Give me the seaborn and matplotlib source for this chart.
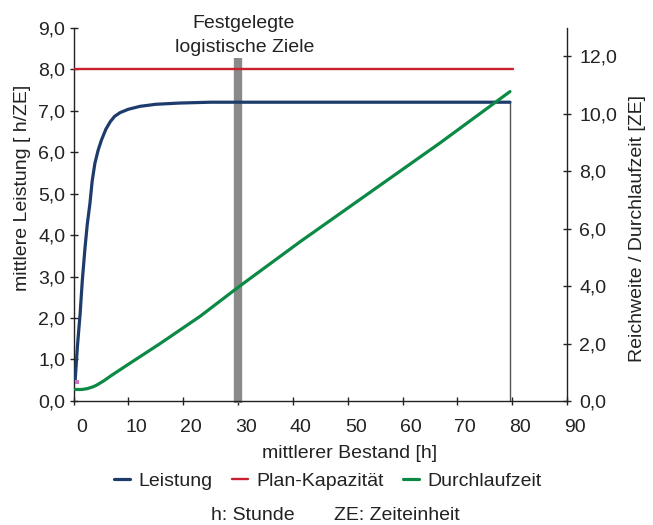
import matplotlib
matplotlib.use("Agg")
import matplotlib.pyplot as plt
import matplotlib.transforms as mtransforms
from matplotlib.ticker import FuncFormatter, MultipleLocator
import seaborn as sns
import pandas as pd

# -------------------------
# Data
# -------------------------
bestand_leistung = [0.3, 0.7, 1.2, 1.6, 2.1, 2.5, 3.0, 3.4, 3.9, 4.5, 5.1, 5.9,
                    6.7, 7.5, 8.5, 10.0, 12.1, 15.0, 19.4, 25.0, 30.0, 79.6]
leistung = [0.5, 1.3, 2.1, 2.9, 3.7, 4.25, 4.77, 5.3, 5.73, 6.05, 6.29, 6.55,
            6.73, 6.86, 6.95, 7.03, 7.1, 7.15, 7.18, 7.2, 7.2, 7.2]

bestand_dlz = [0.3, 1.5, 2.5, 3.5, 4.2, 5.5, 7.0, 9.7, 15.8, 23.1, 30.1, 41.3, 66.9, 79.6]
durchlaufzeit = [0.40, 0.40, 0.43, 0.49, 0.55, 0.70, 0.90, 1.24, 2.0, 2.95, 3.97, 5.54, 8.99, 10.77]

plan_bestand = [0.0, 80.1]
plan_kapazitaet = [8.0, 8.0]

ziel_bestand = 30.0       # festgelegte logistische Ziele
ziel_hoehe = 8.26
leistung_ende = 79.6
punkt = (0.64, 0.46)      # kleiner Messpunkt am Anfang

x_ticks = [0, 10, 20, 30, 40, 50, 60, 70, 80, 90]

df_l = pd.DataFrame({"Bestand": bestand_leistung, "Wert": leistung})
df_d = pd.DataFrame({"Bestand": bestand_dlz, "Wert": durchlaufzeit})
df_p = pd.DataFrame({"Bestand": plan_bestand, "Wert": plan_kapazitaet})

C_LEISTUNG = "#1d3c6c"
C_PLAN = "#c9202e"
C_DLZ = "#0c8a45"
C_ZIEL = "#8a8a8a"

# -------------------------
# Style
# -------------------------
sns.set_style("ticks")
plt.rcParams["font.family"] = ["Liberation Sans", "DejaVu Sans"]
plt.rcParams["font.size"] = 14
plt.rcParams["text.color"] = "#222222"

fig = plt.figure(figsize=(6.53, 5.25), dpi=100)
ax = fig.add_axes([0.1126, 0.2362, 0.7557, 0.7114])
ax2 = ax.twinx()

# -------------------------
# Lines
# -------------------------
ax.vlines(ziel_bestand, -0.06, ziel_hoehe, color=C_ZIEL, lw=6, zorder=1, clip_on=False)
ax.vlines(leistung_ende, 0, leistung[-1], color="#555555", lw=1.0, zorder=2)
sns.lineplot(data=df_p, x="Bestand", y="Wert", ax=ax, color=C_PLAN, lw=1.7,
             label="Plan-Kapazität", legend=False, zorder=3)
sns.lineplot(data=df_l, x="Bestand", y="Wert", ax=ax, color=C_LEISTUNG, lw=2.3,
             label="Leistung", legend=False, zorder=4)
ax.scatter([punkt[0]], [punkt[1]], s=5, marker="s", color="#d070c0", zorder=5, lw=0)
sns.lineplot(data=df_d, x="Bestand", y="Wert", ax=ax2, color=C_DLZ, lw=2.3,
             label="Durchlaufzeit", legend=False, zorder=4)

# -------------------------
# Axes
# -------------------------
ax.set_xlim(0, 90)
ax.set_ylim(0, 9)
ax.set_xticks(x_ticks)
ax.yaxis.set_major_locator(MultipleLocator(1))
ax2.yaxis.set_major_locator(MultipleLocator(2))
ax2.set_ylim(0, 13)

komma = FuncFormatter(lambda v, p: f"{v:.1f}".replace(".", ","))
ax.yaxis.set_major_formatter(komma)
ax2.yaxis.set_major_formatter(komma)

ax.set_xlabel("")
ax.set_ylabel("")
ax2.set_ylabel("")

for a in (ax, ax2):
    a.spines["top"].set_visible(False)
    for s in a.spines.values():
        s.set_linewidth(1.0)
        s.set_color("#222222")
    a.tick_params(direction="inout", length=6, width=1.0, colors="#222222",
                  labelsize=14, labelcolor="#222222")
ax.spines["right"].set_visible(False)
ax2.spines["left"].set_visible(False)
ax2.spines["bottom"].set_visible(False)
ax.tick_params(axis="x", pad=10)
ax.tick_params(axis="y", pad=3)
ax2.tick_params(axis="y", pad=6)

# x tick labels sit a bit right of their ticks in the original
shift = mtransforms.ScaledTranslation(8 / 100, 0, fig.dpi_scale_trans)
for lbl in ax.get_xticklabels():
    lbl.set_transform(lbl.get_transform() + shift)

# -------------------------
# Texts
# -------------------------
fig.text(244 / 653, 1 - 23 / 525, "Festgelegte", ha="center", va="center", fontsize=14)
fig.text(245 / 653, 1 - 47 / 525, "logistische Ziele", ha="center", va="center", fontsize=14)
fig.text(23 / 653, 1 - 188 / 525, "mittlere Leistung [ h/ZE]", rotation=90,
         ha="center", va="center", fontsize=14)
fig.text(638 / 653, 1 - 228 / 525, "Reichweite / Durchlaufzeit [ZE]", rotation=90,
         ha="center", va="center", fontsize=14)
fig.text(350 / 653, 1 - 453 / 525, "mittlerer Bestand [h]", ha="center", va="center", fontsize=14)
fig.text(253 / 653, 1 - 516 / 525, "h: Stunde", ha="center", va="center", fontsize=14)
fig.text(397 / 653, 1 - 516 / 525, "ZE: Zeiteinheit", ha="center", va="center", fontsize=14)

# -------------------------
# Legend
# -------------------------
h1, l1 = ax.get_legend_handles_labels()
h2, l2 = ax2.get_legend_handles_labels()
handles = dict(zip(l1 + l2, h1 + h2))
order = ["Leistung", "Plan-Kapazität", "Durchlaufzeit"]
fig.legend([handles[k] for k in order], order, loc="center",
           bbox_to_anchor=(328 / 653, 1 - 481 / 525), ncol=3, frameon=False,
           fontsize=14, handlelength=0.8, handletextpad=0.45, columnspacing=1.0,
           borderpad=0)

fig.savefig("out.png", dpi=100)
